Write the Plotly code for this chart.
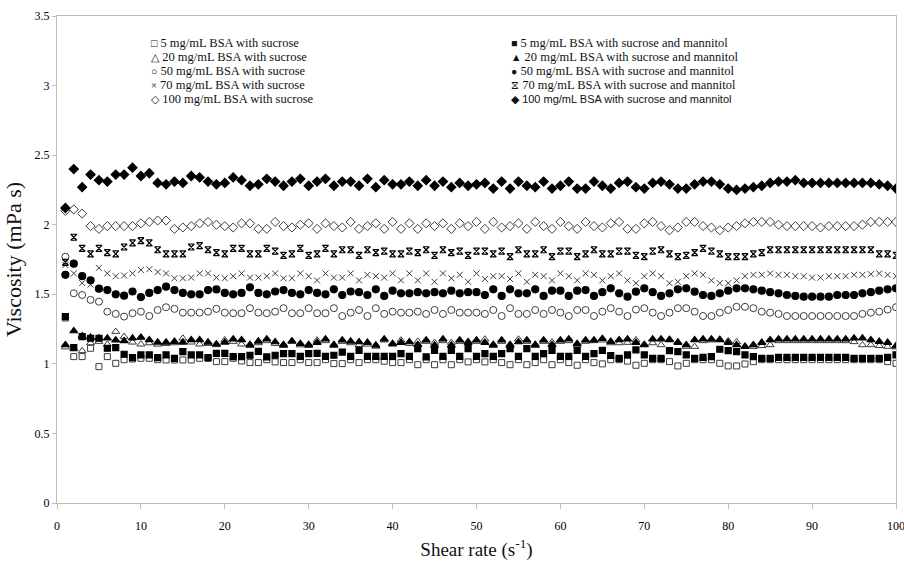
import plotly.graph_objects as go

shear_rate = list(range(1, 101))

bsa5_sucrose = [1.33, 1.052, 1.052, 1.112, 0.98, 1.052, 1.004, 1.03, 1.035, 1.04,
                1.04, 1.03, 1.028, 1.028, 1.028, 1.028, 1.04, 1.04, 1.016, 1.016,
                1.04, 1.021, 1.009, 1.009, 1.03, 1.014, 1.009, 1.009, 1.03, 1.009,
                1.009, 1.03, 1.002, 1.002, 1.03, 1.009, 1.03, 1.03, 1.019, 1.009,
                1.009, 1.03, 0.994, 1.03, 0.994, 1.03, 0.994, 1.03, 1.014, 1.03,
                1.014, 1.03, 1.009, 0.994, 1.03, 0.994, 1.009, 1.03, 0.994, 1.03,
                1.009, 0.99, 1.03, 1.009, 1.0, 1.03, 1.03, 1.02, 0.99, 1.004,
                1.03, 1.03, 1.016, 0.985, 1.004, 1.03, 1.03, 1.03, 1.004, 0.985,
                0.985, 0.999, 1.016, 1.03, 1.03, 1.03, 1.03, 1.03, 1.03, 1.03,
                1.03, 1.03, 1.03, 1.03, 1.03, 1.03, 1.03, 1.03, 1.016, 1.004]

bsa20_sucrose = [1.12, 1.11, 1.093, 1.15, 1.16, 1.14, 1.232, 1.196, 1.155, 1.141,
                 1.15, 1.14, 1.145, 1.15, 1.184, 1.155, 1.141, 1.145, 1.136, 1.172,
                 1.16, 1.141, 1.13, 1.15, 1.165, 1.145, 1.13, 1.165, 1.135, 1.13,
                 1.17, 1.165, 1.13, 1.16, 1.15, 1.138, 1.14, 1.125, 1.17, 1.14,
                 1.17, 1.145, 1.162, 1.16, 1.153, 1.165, 1.153, 1.16, 1.162, 1.16,
                 1.177, 1.13, 1.16, 1.13, 1.177, 1.16, 1.13, 1.16, 1.157, 1.16,
                 1.165, 1.135, 1.16, 1.165, 1.17, 1.15, 1.15, 1.153, 1.172, 1.14,
                 1.15, 1.136, 1.177, 1.158, 1.124, 1.124, 1.165, 1.17, 1.177, 1.165,
                 1.158, 1.124, 1.124, 1.13, 1.136, 1.165, 1.165, 1.165, 1.165, 1.165,
                 1.165, 1.165, 1.165, 1.165, 1.158, 1.136, 1.136, 1.13, 1.124, 1.12]

bsa50_sucrose = [1.77, 1.507, 1.495, 1.46, 1.447, 1.375, 1.359, 1.34, 1.364, 1.375,
                 1.344, 1.387, 1.407, 1.395, 1.368, 1.368, 1.368, 1.375, 1.395, 1.368,
                 1.364, 1.364, 1.40, 1.368, 1.364, 1.375, 1.40, 1.364, 1.364, 1.40,
                 1.364, 1.364, 1.40, 1.344, 1.368, 1.387, 1.344, 1.40, 1.359, 1.375,
                 1.368, 1.368, 1.375, 1.359, 1.387, 1.359, 1.387, 1.368, 1.368, 1.368,
                 1.359, 1.387, 1.344, 1.40, 1.359, 1.359, 1.387, 1.359, 1.387, 1.368,
                 1.344, 1.387, 1.387, 1.344, 1.375, 1.40, 1.375, 1.344, 1.39, 1.40,
                 1.368, 1.344, 1.368, 1.40, 1.40, 1.375, 1.344, 1.344, 1.368, 1.387,
                 1.41, 1.41, 1.40, 1.375, 1.368, 1.359, 1.344, 1.344, 1.344, 1.344,
                 1.344, 1.344, 1.344, 1.344, 1.344, 1.359, 1.368, 1.375, 1.39, 1.407]

bsa70_sucrose = [1.71, 1.65, 1.58, 1.57, 1.69, 1.65, 1.63, 1.635, 1.65, 1.675,
                 1.68, 1.66, 1.65, 1.615, 1.615, 1.62, 1.65, 1.65, 1.62, 1.615,
                 1.63, 1.65, 1.62, 1.62, 1.63, 1.65, 1.615, 1.615, 1.65, 1.63,
                 1.60, 1.65, 1.62, 1.62, 1.65, 1.60, 1.64, 1.63, 1.62, 1.65,
                 1.60, 1.65, 1.60, 1.65, 1.59, 1.65, 1.615, 1.64, 1.59, 1.65,
                 1.61, 1.63, 1.63, 1.61, 1.65, 1.59, 1.64, 1.63, 1.60, 1.65,
                 1.63, 1.60, 1.65, 1.64, 1.60, 1.63, 1.65, 1.60, 1.58, 1.63,
                 1.65, 1.63, 1.58, 1.59, 1.63, 1.65, 1.64, 1.60, 1.58, 1.58,
                 1.60, 1.63, 1.64, 1.64, 1.65, 1.64, 1.64, 1.63, 1.63, 1.62,
                 1.62, 1.63, 1.63, 1.63, 1.64, 1.64, 1.645, 1.65, 1.64, 1.63]

bsa100_sucrose = [2.10, 2.11, 2.08, 1.99, 1.97, 1.99, 1.99, 1.99, 1.99, 2.01,
                  2.02, 2.03, 2.03, 1.97, 1.98, 1.99, 2.01, 2.02, 2.00, 1.99,
                  1.98, 2.01, 2.01, 1.97, 1.97, 2.02, 1.99, 1.98, 2.00, 2.01,
                  1.97, 2.01, 1.99, 1.98, 2.02, 1.97, 1.99, 2.01, 1.97, 2.02,
                  1.97, 2.01, 1.97, 2.01, 1.99, 2.01, 1.97, 2.01, 1.99, 2.02,
                  1.97, 2.02, 1.98, 1.99, 2.01, 1.97, 2.02, 1.99, 1.97, 2.02,
                  1.99, 1.97, 2.02, 1.99, 1.98, 2.01, 2.02, 1.97, 1.97, 2.01,
                  2.02, 1.99, 1.96, 1.98, 2.02, 2.02, 1.99, 1.98, 1.96, 1.98,
                  1.99, 2.01, 2.02, 2.02, 2.02, 2.00, 1.99, 1.99, 1.99, 1.99,
                  1.98, 1.99, 1.99, 1.99, 1.99, 2.00, 2.02, 2.02, 2.02, 2.02]

bsa5_mannitol = [1.34, 1.117, 1.196, 1.184, 1.184, 1.112, 1.117, 1.069, 1.045, 1.064,
                 1.064, 1.045, 1.064, 1.04, 1.088, 1.064, 1.064, 1.045, 1.076, 1.076,
                 1.052, 1.052, 1.062, 1.090, 1.050, 1.062, 1.074, 1.074, 1.054, 1.074,
                 1.076, 1.054, 1.062, 1.085, 1.054, 1.097, 1.054, 1.054, 1.054, 1.054,
                 1.074, 1.054, 1.109, 1.050, 1.097, 1.054, 1.097, 1.054, 1.109, 1.054,
                 1.074, 1.054, 1.074, 1.109, 1.054, 1.109, 1.054, 1.074, 1.097, 1.054,
                 1.054, 1.097, 1.054, 1.074, 1.097, 1.06, 1.04, 1.064, 1.10, 1.064,
                 1.04, 1.04, 1.095, 1.088, 1.064, 1.04, 1.047, 1.052, 1.105, 1.095,
                 1.088, 1.064, 1.052, 1.04, 1.04, 1.047, 1.047, 1.047, 1.047, 1.047,
                 1.047, 1.047, 1.047, 1.047, 1.04, 1.04, 1.04, 1.04, 1.047, 1.064]

bsa20_mannitol = [1.136, 1.236, 1.20, 1.19, 1.185, 1.184, 1.17, 1.165, 1.184, 1.19,
                  1.172, 1.155, 1.155, 1.16, 1.155, 1.172, 1.172, 1.155, 1.141, 1.155,
                  1.177, 1.172, 1.138, 1.162, 1.177, 1.157, 1.138, 1.162, 1.145, 1.138,
                  1.153, 1.177, 1.138, 1.170, 1.162, 1.157, 1.153, 1.133, 1.177, 1.145,
                  1.153, 1.157, 1.138, 1.170, 1.133, 1.177, 1.133, 1.170, 1.153, 1.170,
                  1.153, 1.138, 1.170, 1.138, 1.157, 1.170, 1.138, 1.170, 1.138, 1.170,
                  1.177, 1.145, 1.170, 1.170, 1.181, 1.160, 1.172, 1.177, 1.153, 1.136,
                  1.177, 1.177, 1.172, 1.153, 1.136, 1.172, 1.177, 1.177, 1.172, 1.153,
                  1.136, 1.124, 1.136, 1.153, 1.172, 1.177, 1.177, 1.177, 1.177, 1.177,
                  1.177, 1.177, 1.177, 1.177, 1.184, 1.184, 1.172, 1.160, 1.153, 1.129]

bsa50_mannitol = [1.64, 1.72, 1.63, 1.60, 1.54, 1.53, 1.50, 1.49, 1.52, 1.48,
                  1.51, 1.53, 1.555, 1.53, 1.51, 1.50, 1.50, 1.53, 1.535, 1.51,
                  1.50, 1.51, 1.55, 1.51, 1.50, 1.52, 1.53, 1.51, 1.50, 1.53,
                  1.51, 1.50, 1.536, 1.495, 1.52, 1.515, 1.495, 1.536, 1.488, 1.526,
                  1.507, 1.507, 1.515, 1.507, 1.515, 1.507, 1.526, 1.507, 1.515, 1.515,
                  1.495, 1.536, 1.488, 1.536, 1.507, 1.507, 1.536, 1.488, 1.526, 1.526,
                  1.488, 1.526, 1.53, 1.488, 1.515, 1.543, 1.507, 1.483, 1.519, 1.543,
                  1.515, 1.488, 1.507, 1.536, 1.543, 1.519, 1.495, 1.488, 1.507, 1.526,
                  1.543, 1.543, 1.536, 1.526, 1.515, 1.507, 1.495, 1.488, 1.483, 1.483,
                  1.483, 1.483, 1.495, 1.495, 1.495, 1.507, 1.515, 1.526, 1.536, 1.543]

bsa70_mannitol = [1.73, 1.91, 1.83, 1.79, 1.83, 1.80, 1.79, 1.84, 1.87, 1.885,
                  1.87, 1.82, 1.79, 1.79, 1.79, 1.84, 1.85, 1.82, 1.80, 1.79,
                  1.83, 1.83, 1.79, 1.79, 1.83, 1.81, 1.78, 1.79, 1.83, 1.78,
                  1.79, 1.83, 1.79, 1.82, 1.82, 1.78, 1.82, 1.80, 1.81, 1.79,
                  1.79, 1.81, 1.80, 1.82, 1.78, 1.82, 1.80, 1.81, 1.78, 1.81,
                  1.81, 1.79, 1.81, 1.77, 1.82, 1.79, 1.79, 1.82, 1.77, 1.81,
                  1.81, 1.77, 1.79, 1.82, 1.79, 1.79, 1.81, 1.81, 1.78, 1.77,
                  1.81, 1.82, 1.79, 1.77, 1.78, 1.80, 1.83, 1.81, 1.79, 1.77,
                  1.77, 1.77, 1.79, 1.80, 1.82, 1.82, 1.82, 1.82, 1.82, 1.82,
                  1.82, 1.82, 1.82, 1.82, 1.82, 1.82, 1.82, 1.79, 1.79, 1.78]

bsa100_mannitol = [2.12, 2.40, 2.27, 2.36, 2.32, 2.31, 2.36, 2.36, 2.41, 2.35,
                   2.37, 2.30, 2.29, 2.31, 2.30, 2.35, 2.34, 2.31, 2.29, 2.30,
                   2.34, 2.32, 2.28, 2.29, 2.33, 2.31, 2.28, 2.31, 2.33, 2.28,
                   2.31, 2.33, 2.28, 2.31, 2.31, 2.28, 2.33, 2.27, 2.32, 2.29,
                   2.29, 2.31, 2.28, 2.32, 2.28, 2.31, 2.27, 2.30, 2.28, 2.29,
                   2.30, 2.26, 2.31, 2.26, 2.31, 2.28, 2.27, 2.31, 2.26, 2.28,
                   2.31, 2.26, 2.26, 2.31, 2.28, 2.26, 2.30, 2.31, 2.27, 2.26,
                   2.30, 2.31, 2.29, 2.26, 2.26, 2.29, 2.31, 2.31, 2.29, 2.26,
                   2.25, 2.26, 2.27, 2.28, 2.30, 2.31, 2.31, 2.32, 2.30, 2.30,
                   2.30, 2.30, 2.30, 2.30, 2.30, 2.30, 2.30, 2.29, 2.28, 2.26]

x_ticks = list(range(0, 101, 10))
y_ticks = [0, 0.5, 1, 1.5, 2, 2.5, 3, 3.5]
y_tick_text = ["0", "0.5", "1", "1.5", "2", "2.5", "3", "3.5"]

sucrose_names = ["5 mg/mL BSA with sucrose", "20 mg/mL BSA with sucrose",
                 "50 mg/mL BSA with sucrose", "70 mg/mL BSA with sucrose",
                 "100 mg/mL BSA with sucrose"]
mannitol_names = ["5 mg/mL BSA with sucrose and mannitol",
                  "20 mg/mL BSA with sucrose and mannitol",
                  "50 mg/mL BSA with sucrose and mannitol",
                  "70 mg/mL BSA with sucrose and mannitol",
                  "100 mg/mL BSA with sucrose and mannitol"]
sucrose_glyphs = ["□", "△", "○", "×", "◇"]
mannitol_glyphs = ["■", "▲", "●", "⧖", "◆"]

OPEN = "#3c3c3c"
FILL = "#000000"

sucrose_series = [bsa5_sucrose, bsa20_sucrose, bsa50_sucrose, bsa70_sucrose, bsa100_sucrose]
mannitol_series = [bsa5_mannitol, bsa20_mannitol, bsa50_mannitol, bsa70_mannitol, bsa100_mannitol]
sucrose_symbols = ["square-open", "triangle-up-open", "circle-open", "x-thin-open", "diamond-open"]
mannitol_symbols = ["square", "triangle-up", "circle", "hourglass-open", "diamond"]
sucrose_sizes = [6, 7, 7, 6, 7]
mannitol_sizes = [6, 7, 7, 6, 7]

fig = go.Figure()
for name, ys, sym, sz in zip(sucrose_names, sucrose_series, sucrose_symbols, sucrose_sizes):
    fig.add_trace(go.Scatter(
        x=shear_rate, y=ys, mode="markers", name=name, showlegend=False,
        marker=dict(symbol=sym, size=sz, color=OPEN, line=dict(color=OPEN, width=1)),
    ))
for name, ys, sym, sz in zip(mannitol_names, mannitol_series, mannitol_symbols, mannitol_sizes):
    fig.add_trace(go.Scatter(
        x=shear_rate, y=ys, mode="markers", name=name, showlegend=False,
        marker=dict(symbol=sym, size=sz, color=FILL, line=dict(color=FILL, width=1.2)),
    ))

# legend drawn as text rows (two columns)
row_y_px = [42.7, 56.7, 70.7, 84.7, 98.7]
plot_top, plot_bottom, plot_left, plot_width = 16, 503, 57, 839
annotations = []
for i, (g, n) in enumerate(zip(sucrose_glyphs, sucrose_names)):
    annotations.append(dict(
        xref="paper", yref="paper", x=(149 - plot_left) / plot_width,
        y=(plot_bottom - row_y_px[i]) / (plot_bottom - plot_top),
        xanchor="left", yanchor="middle", showarrow=False,
        text=f"<span style='font-size:10.5px'>{g}</span> {n}",
        font=dict(family="Liberation Serif", size=12.5, color="#111"),
    ))
for i, (g, n) in enumerate(zip(mannitol_glyphs, mannitol_names)):
    txt = n
    if i == 4:
        txt = f"<span style='font-family:Liberation Sans;font-size:11px'>{n}</span>"
    annotations.append(dict(
        xref="paper", yref="paper", x=(509 - plot_left) / plot_width,
        y=(plot_bottom - row_y_px[i]) / (plot_bottom - plot_top),
        xanchor="left", yanchor="middle", showarrow=False,
        text=f"<span style='font-size:10.5px'>{g}</span> {txt}",
        font=dict(family="Liberation Serif", size=12.5, color="#111"),
    ))

fig.update_layout(
    width=904, height=561,
    margin=dict(l=57, r=8, t=16, b=58),
    paper_bgcolor="white", plot_bgcolor="white",
    font=dict(family="Liberation Serif", color="#111"),
    annotations=annotations,
    xaxis=dict(
        range=[0, 100], tickvals=x_ticks, showgrid=False, zeroline=False,
        automargin=False, ticklabeloverflow="allow",
        showline=True, linecolor="#bdbdbd", linewidth=1, mirror=True,
        ticks="outside", ticklen=5, tickcolor="#bdbdbd",
        tickfont=dict(family="Liberation Serif", size=12, color="#000"),
        ticklabelstandoff=7,
        title=dict(text="Shear rate (s<sup>-1</sup>)", standoff=10,
                   font=dict(family="Liberation Serif", size=19, color="#111")),
    ),
    yaxis=dict(
        range=[0, 3.5], tickvals=y_ticks, ticktext=y_tick_text,
        showgrid=False, zeroline=False,
        automargin=False, ticklabeloverflow="allow",
        showline=True, linecolor="#bdbdbd", linewidth=1, mirror=True,
        ticks="outside", ticklen=4, tickcolor="#bdbdbd",
        tickfont=dict(family="Liberation Serif", size=12, color="#000"),
        title=dict(text="Viscosity (mPa s)", standoff=6,
                   font=dict(family="Liberation Serif", size=22, color="#111")),
    ),
)

fig.write_html("out.html",
               config={"displayModeBar": False},
               post_script="document.body.style.margin='0';document.body.style.overflow='hidden';")
